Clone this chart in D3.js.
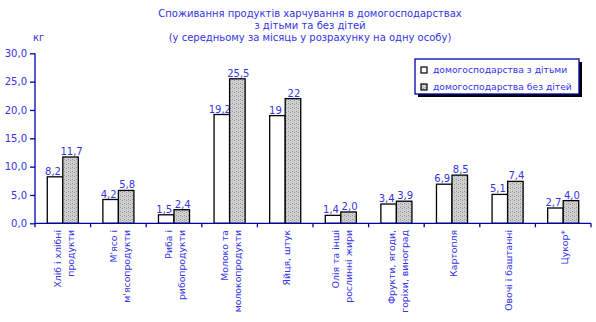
<!DOCTYPE html>
<html>
<head>
<meta charset="utf-8">
<script src="https://cdn.jsdelivr.net/npm/d3@7"></script>
<style>
  html, body { margin: 0; padding: 0; background: #fff; }
  svg { display: block; font-family: "DejaVu Sans", Verdana, sans-serif; }
</style>
</head>
<body>
<svg id="chart" width="596" height="322"></svg>
<script>
// Food consumption per person per month, kg
const categories = [
  ["Хліб і хлібні", "продукти"],
  ["М'ясо і", "м'ясопродукти"],
  ["Риба і", "рибопродукти"],
  ["Молоко та", "молокопродукти"],
  ["Яйця, штук"],
  ["Олія та інші", "рослинні жири"],
  ["Фрукти, ягоди,", "горіхи, виноград"],
  ["Картопля"],
  ["Овочі і баштанні"],
  ["Цукор*"]
];
// values written as shown in the labels
const withChildren    = ["8.2", "4.2", "1.5", "19.2", "19", "1.4", "3.4", "6.9", "5.1", "2.7"];
const withoutChildren = ["11.7", "5.8", "2.4", "25.5", "22", "2.0", "3.9", "8.5", "7.4", "4.0"];
const seriesNames = ["домогосподарства з дітьми", "домогосподарства без дітей"];
const yTicks = [0, 5, 10, 15, 20, 25, 30];
const titleLines = [
  "Споживання продуктів харчування в домогосподарствах",
  "з дітьми та без дітей",
  "(у середньому за місяць у розрахунку на одну особу)"
];
const unitLabel = "кг";

const textColor = "#3434e6";
const axisColor = "#0000aa";

const svg = d3.select("#chart");

// hatched grey fill
const defs = svg.append("defs");
const pat = defs.append("pattern")
  .attr("id", "weave").attr("patternUnits", "userSpaceOnUse")
  .attr("width", 4).attr("height", 4);
pat.append("rect").attr("width", 4).attr("height", 4).attr("fill", "#929292");
pat.append("path")
  .attr("d", "M0,0h1v1h1v1h1v-1h1v-1 M0,2h1v1h1v1 M3,4v-1h1v-1")
  .attr("fill", "none").attr("stroke", "#eaeaea").attr("stroke-width", 0.9);

const plotL = 35, plotR = 591, plotT = 53.3, plotB = 223.3;

const x = d3.scaleBand().domain(d3.range(categories.length)).range([plotL, plotR]).padding(0);
const x1 = d3.scaleBand().domain([0, 1]).range([0, x.bandwidth()]).paddingInner(0).paddingOuter(0.79);
const y = d3.scaleLinear().domain([0, 30]).range([plotB, plotT]);

const fmt = s => s.replace(".", ",");
const fills = ["#ffffff", "url(#weave)"];
const series = [withChildren, withoutChildren];

// title
svg.append("g").selectAll("text").data(titleLines).join("text")
  .attr("x", 310).attr("y", (d, i) => 17 + i * 12)
  .attr("text-anchor", "middle").attr("font-size", 10).attr("fill", textColor)
  .text(d => d);
svg.append("text").attr("x", 33).attr("y", 41).attr("font-size", 10)
  .attr("fill", textColor).text(unitLabel);

// bars
series.forEach((vals, si) => {
  svg.append("g").selectAll("rect").data(vals).join("rect")
    .attr("x", (d, i) => x(i) + x1(si))
    .attr("y", d => y(+d))
    .attr("width", x1.bandwidth())
    .attr("height", d => y(0) - y(+d))
    .attr("fill", fills[si]).attr("stroke", "#000").attr("stroke-width", 1.3);
  svg.append("g").selectAll("text").data(vals).join("text")
    .attr("x", (d, i) => x(i) + x1(si) + x1.bandwidth() / 2 + (si === 0 ? -2 : 1))
    .attr("y", d => y(+d) - 2)
    .attr("text-anchor", "middle").attr("font-size", 10).attr("fill", textColor)
    .text(d => fmt(d));
});

// y axis
const yAxis = svg.append("g").attr("transform", `translate(${plotL},0)`)
  .call(d3.axisLeft(y).tickValues(yTicks).tickSize(5).tickPadding(3)
    .tickFormat(d => d3.format(".1f")(d).replace(".", ",")));
yAxis.select(".domain").attr("stroke", axisColor).attr("stroke-width", 1.3).attr("d", `M0,${plotT}V${plotB}`);
yAxis.selectAll(".tick line").attr("stroke", axisColor).attr("stroke-width", 1.3);
yAxis.selectAll(".tick text").attr("fill", textColor).attr("font-size", 10)
  .attr("font-family", "DejaVu Sans, sans-serif");

// x axis with ticks on category boundaries
const xb = svg.append("g").attr("transform", `translate(0,${plotB})`);
xb.append("line").attr("x1", plotL).attr("x2", plotR).attr("stroke", axisColor).attr("stroke-width", 1.3);
xb.selectAll(".tk").data(d3.range(categories.length + 1)).join("line")
  .attr("class", "tk")
  .attr("x1", i => plotL + i * x.step()).attr("x2", i => plotL + i * x.step())
  .attr("y1", 0).attr("y2", 4).attr("stroke", axisColor).attr("stroke-width", 1.3);

// rotated category labels
const catG = svg.append("g").selectAll("g").data(categories).join("g")
  .attr("transform", (d, i) => `translate(${x(i) + x.bandwidth() / 2 + 1.5},230) rotate(-90)`);
catG.selectAll("text").data(d => d.map((t, j) => ({ t, j, n: d.length }))).join("text")
  .attr("x", 0)
  .attr("y", d => (d.j - (d.n - 1) / 2) * 13)
  .attr("dy", "0.35em")
  .attr("text-anchor", "end").attr("font-size", 9.3).attr("fill", textColor)
  .text(d => d.t);

// legend
const lg = svg.append("g").attr("transform", "translate(415,59)");
lg.append("rect").attr("x", 3).attr("y", 3).attr("width", 164).attr("height", 35).attr("fill", "#000");
lg.append("rect").attr("width", 164).attr("height", 35).attr("fill", "#fff")
  .attr("stroke", axisColor).attr("stroke-width", 1.3);
const items = lg.selectAll(".it").data(seriesNames).join("g").attr("class", "it")
  .attr("transform", (d, i) => `translate(6,${8 + i * 17})`);
items.append("rect").attr("width", 6).attr("height", 6)
  .attr("fill", (d, i) => fills[i]).attr("stroke", "#000").attr("stroke-width", 1.2);
items.append("text").attr("x", 12).attr("y", 3).attr("dy", "0.35em")
  .attr("font-size", 9.2).attr("fill", textColor).text(d => d);
</script>
</body>
</html>
